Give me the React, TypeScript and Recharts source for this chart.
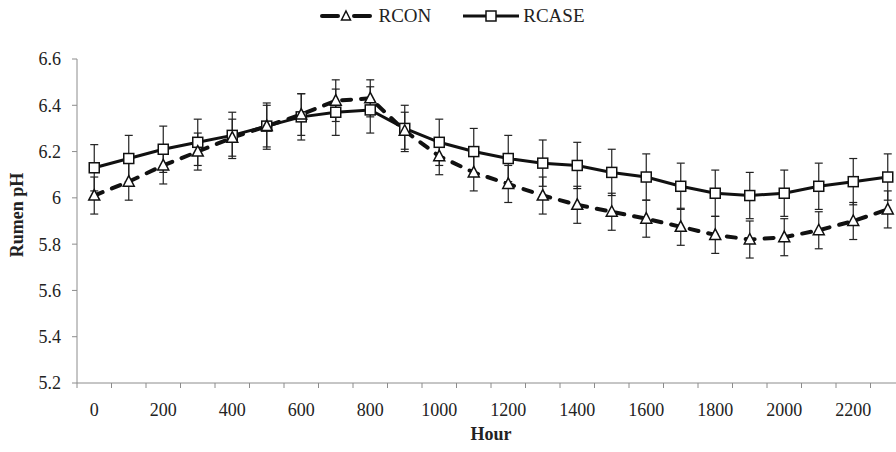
import React from 'react';
import { LineChart, Line, XAxis, YAxis, ErrorBar, Legend } from 'recharts';

// hours sampled every 100
const hours = [0, 100, 200, 300, 400, 500, 600, 700, 800, 900, 1000, 1100, 1200, 1300, 1400, 1500, 1600, 1700, 1800, 1900, 2000, 2100, 2200, 2300];
const rcon = [6.01, 6.07, 6.14, 6.2, 6.26, 6.31, 6.36, 6.42, 6.43, 6.29, 6.18, 6.11, 6.06, 6.01, 5.97, 5.94, 5.91, 5.875, 5.84, 5.82, 5.83, 5.86, 5.9, 5.95];
const rconErr = [0.08, 0.08, 0.08, 0.08, 0.08, 0.09, 0.09, 0.09, 0.08, 0.08, 0.08, 0.08, 0.08, 0.08, 0.08, 0.08, 0.08, 0.08, 0.08, 0.08, 0.08, 0.08, 0.08, 0.08];
const rcase = [6.13, 6.17, 6.21, 6.24, 6.27, 6.31, 6.35, 6.37, 6.38, 6.3, 6.24, 6.2, 6.17, 6.15, 6.14, 6.11, 6.09, 6.05, 6.02, 6.01, 6.02, 6.05, 6.07, 6.09];
const rcaseErr = [0.1, 0.1, 0.1, 0.1, 0.1, 0.1, 0.1, 0.1, 0.1, 0.1, 0.1, 0.1, 0.1, 0.1, 0.1, 0.1, 0.1, 0.1, 0.1, 0.1, 0.1, 0.1, 0.1, 0.1];

const labelTicks = [0, 200, 400, 600, 800, 1000, 1200, 1400, 1600, 1800, 2000, 2200];
const boundaryTicks = [-50, 50, 150, 250, 350, 450, 550, 650, 750, 850, 950, 1050, 1150, 1250, 1350, 1450, 1550, 1650, 1750, 1850, 1950, 2050, 2150, 2250, 2350];
const yTicks = [5.2, 5.4, 5.6, 5.8, 6, 6.2, 6.4, 6.6];

const data = hours.map((hour, i) => ({
  hour,
  rcon: rcon[i],
  rconErr: rconErr[i],
  rcase: rcase[i],
  rcaseErr: rcaseErr[i],
}));

const FONT = '"Liberation Serif", "Times New Roman", serif';
const AXIS = '#8c8c8c';

const Triangle = (props: any) => {
  const { cx, cy, index } = props;
  if (cx == null || cy == null) return <g key={index} />;
  return (
    <path
      key={index}
      d={`M${cx},${cy - 6} L${cx + 5.5},${cy + 4.5} L${cx - 5.5},${cy + 4.5} Z`}
      fill='#fff'
      stroke='#111'
      strokeWidth={1.5}
    />
  );
};

const Square = (props: any) => {
  const { cx, cy, index } = props;
  if (cx == null || cy == null) return <g key={index} />;
  return <rect key={index} x={cx - 5} y={cy - 5} width={10} height={10} fill='#fff' stroke='#111' strokeWidth={1.5} />;
};

const LegendContent = () => (
  <div style={{ display: 'flex', justifyContent: 'center', alignItems: 'center', fontFamily: FONT, fontSize: 19, color: '#222' }}>
    <svg width={52} height={16} style={{ marginRight: 6 }}>
      <line x1={2} y1={8} x2={18} y2={8} stroke='#111' strokeWidth={4} strokeLinecap='round' />
      <line x1={34} y1={8} x2={50} y2={8} stroke='#111' strokeWidth={4} strokeLinecap='round' />
      <path d='M26,3 L30.5,12 L21.5,12 Z' fill='#fff' stroke='#111' strokeWidth={1.5} />
    </svg>
    <span style={{ marginRight: 32 }}>RCON</span>
    <svg width={56} height={16} style={{ marginRight: 4 }}>
      <line x1={0} y1={8} x2={56} y2={8} stroke='#111' strokeWidth={3} />
      <rect x={23} y={3} width={10} height={10} fill='#fff' stroke='#111' strokeWidth={1.5} />
    </svg>
    <span>RCASE</span>
  </div>
);

export default function App() {
  return (
    <div style={{ position: 'absolute', left: 0, top: 0, width: 896, height: 452, overflow: 'hidden', background: '#fff' }}>
      <LineChart width={906} height={452} data={data} margin={{ top: 35, right: 1, left: 0, bottom: 0 }}>
        <Legend verticalAlign='top' content={<LegendContent />} wrapperStyle={{ top: 5, height: 24 }} />
        <YAxis
          type='number'
          domain={[5.2, 6.6]}
          ticks={yTicks}
          width={77}
          stroke={AXIS}
          tickSize={5}
          tickMargin={11}
          tick={{ fill: '#222', fontFamily: FONT, fontSize: 18 }}
          label={{
            content: ({ viewBox }: any) => {
              const x = viewBox.x + 17;
              const y = viewBox.y + viewBox.height / 2 - 6;
              return (
                <text x={x} y={y} transform={`rotate(-90, ${x}, ${y})`} textAnchor='middle' dominantBaseline='central' fontFamily={FONT} fontSize={18} fontWeight='bold' fill='#222'>
                  Rumen pH
                </text>
              );
            },
          }}
        />
        {/* axis line with tick marks between categories */}
        <XAxis
          xAxisId='a'
          type='number'
          dataKey='hour'
          domain={[-50, 2350]}
          allowDataOverflow
          ticks={boundaryTicks}
          interval={0}
          height={5}
          stroke={AXIS}
          tickSize={5}
          tick={() => <g />}
        />
        {/* hour labels, every other category */}
        <XAxis
          xAxisId='b'
          type='number'
          dataKey='hour'
          domain={[-50, 2350]}
          allowDataOverflow
          ticks={labelTicks}
          interval={0}
          height={64}
          axisLine={false}
          tickLine={false}
          tickSize={0}
          tickMargin={15}
          tick={{ fill: '#222', fontFamily: FONT, fontSize: 18 }}
          label={{
            content: ({ viewBox }: any) => (
              <text x={viewBox.x + viewBox.width / 2} y={viewBox.y + 46} textAnchor='middle' dominantBaseline='central' fontFamily={FONT} fontSize={18} fontWeight='bold' fill='#222'>
                Hour
              </text>
            ),
          }}
        />
        <Line
          xAxisId='b'
          dataKey='rcase'
          name='RCASE'
          stroke='#111'
          strokeWidth={3}
          dot={Square}
          activeDot={false}
          isAnimationActive={false}
        >
          <ErrorBar dataKey='rcaseErr' direction='y' width={4} stroke='#222' strokeWidth={1.2} />
        </Line>
        <Line
          xAxisId='b'
          dataKey='rcon'
          name='RCON'
          stroke='#111'
          strokeWidth={4}
          strokeDasharray='9 10'
          strokeLinecap='round'
          dot={Triangle}
          activeDot={false}
          isAnimationActive={false}
        >
          <ErrorBar dataKey='rconErr' direction='y' width={4} stroke='#222' strokeWidth={1.2} />
        </Line>
      </LineChart>
    </div>
  );
}
